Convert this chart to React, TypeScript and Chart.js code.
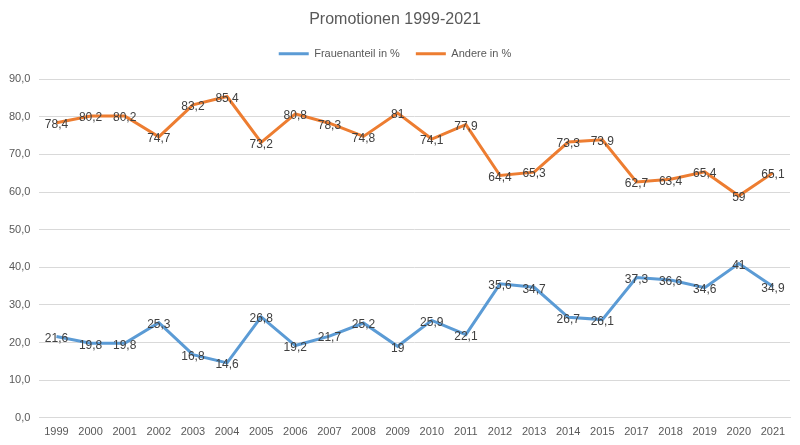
import { useEffect, useRef } from 'react';
import { Chart, registerables } from 'chart.js';
import type { Plugin } from 'chart.js';

Chart.register(...registerables);

const years = [
  '1999', '2000', '2001', '2002', '2003', '2004', '2005', '2006', '2007', '2008', '2009',
  '2010', '2011', '2012', '2013', '2014', '2015', '2017', '2018', '2019', '2020', '2021'
];
const frauenanteil = [
  21.6, 19.8, 19.8, 25.3, 16.8, 14.6, 26.8, 19.2, 21.7, 25.2, 19,
  25.9, 22.1, 35.6, 34.7, 26.7, 26.1, 37.3, 36.6, 34.6, 41, 34.9
];
const andere = [
  78.4, 80.2, 80.2, 74.7, 83.2, 85.4, 73.2, 80.8, 78.3, 74.8, 81,
  74.1, 77.9, 64.4, 65.3, 73.3, 73.9, 62.7, 63.4, 65.4, 59, 65.1
];

const FONT = '"Liberation Sans", Arial, sans-serif';
const TEXT = '#595959';

// draws the value of every point centred on it, like Excel's data labels
const pointLabels: Plugin = {
  id: 'pointLabels',
  afterDatasetsDraw(chart) {
    const ctx = chart.ctx;
    ctx.save();
    ctx.font = '12px ' + FONT;
    ctx.fillStyle = '#404040';
    ctx.textAlign = 'center';
    ctx.textBaseline = 'middle';
    chart.data.datasets.forEach((ds, i) => {
      const meta = chart.getDatasetMeta(i);
      meta.data.forEach((pt, j) => {
        const v = ds.data[j] as number;
        ctx.fillText(String(v).replace('.', ','), pt.x, pt.y + 2);
      });
    });
    ctx.restore();
  }
};

// extra room under the legend
const legendGap: Plugin = {
  id: 'legendGap',
  beforeInit(chart: any) {
    const fit = chart.legend.fit;
    chart.legend.fit = function () {
      fit.call(this);
      this.height += 10;
    };
  }
};

export default function App() {
  const canvasRef = useRef<HTMLCanvasElement>(null);

  useEffect(() => {
    if (!canvasRef.current) return;
    const chart = new Chart(canvasRef.current, {
      type: 'line',
      data: {
        labels: years,
        datasets: [
          {
            label: 'Frauenanteil in %',
            data: frauenanteil,
            borderColor: '#5B9BD5',
            backgroundColor: '#5B9BD5',
            borderWidth: 3,
            pointRadius: 0,
            tension: 0
          },
          {
            label: 'Andere in %',
            data: andere,
            borderColor: '#ED7D31',
            backgroundColor: '#ED7D31',
            borderWidth: 3,
            pointRadius: 0,
            tension: 0
          }
        ]
      },
      options: {
        responsive: false,
        animation: false,
        layout: { padding: { left: 0, right: 10, top: 8, bottom: 6 } },
        plugins: {
          title: {
            display: true,
            text: 'Promotionen 1999-2021',
            color: TEXT,
            font: { family: FONT, size: 16, weight: 'normal' },
            padding: { top: 2, bottom: 3 }
          },
          legend: {
            display: true,
            position: 'top',
            labels: {
              color: TEXT,
              font: { family: FONT, size: 11 },
              usePointStyle: true,
              pointStyle: 'line',
              pointStyleWidth: 30,
              boxHeight: 11,
              padding: 16
            }
          },
          tooltip: { enabled: false }
        },
        scales: {
          x: {
            offset: true,
            grid: { display: false },
            border: { color: '#D9D9D9' },
            ticks: { color: TEXT, padding: 0, font: { family: FONT, size: 11 }, maxRotation: 0, autoSkip: false }
          },
          y: {
            min: 0,
            max: 90,
            grid: { color: '#D9D9D9', drawTicks: false },
            border: { display: false },
            ticks: {
              stepSize: 10,
              color: TEXT,
              padding: 9,
              font: { family: FONT, size: 11 },
              callback: (v) => Number(v).toFixed(1).replace('.', ',')
            }
          }
        }
      },
      plugins: [pointLabels, legendGap]
    });
    return () => chart.destroy();
  }, []);

  return (
    <div style={{ position: 'fixed', left: 0, top: 0, width: 800, height: 445, background: '#fff' }}>
      <canvas ref={canvasRef} width={800} height={445} />
    </div>
  );
}
